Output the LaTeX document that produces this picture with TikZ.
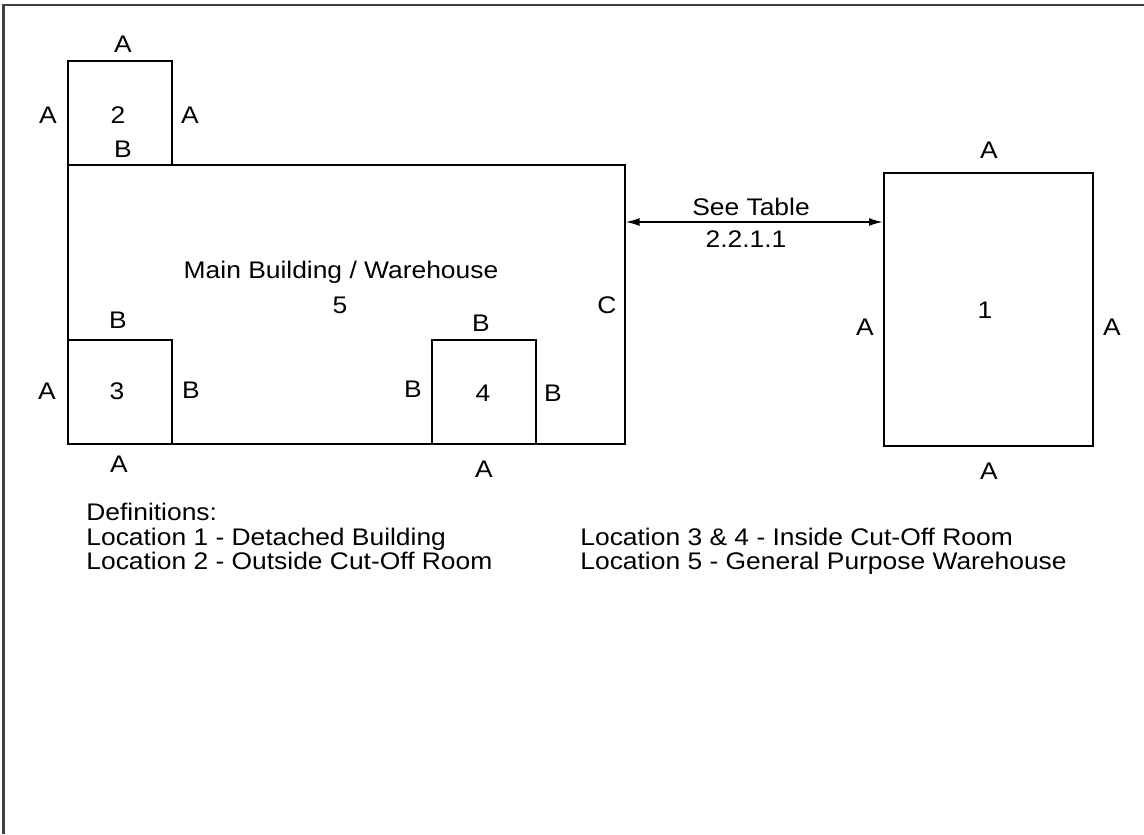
\documentclass[tikz,border=0pt]{standalone}
\usepackage{fontspec}
\setmainfont{Liberation Sans}[FakeStretch=1.1]
\usetikzlibrary{arrows.meta}
\tikzset{
	room/.style={draw, line width=1pt, inner sep=0pt},
	lbl/.style={anchor=base, inner sep=0pt, font=\fontsize{12}{12}\selectfont},
	defn/.style={lbl, anchor=base west},
	dim/.style={{Latex[length=7pt,width=4pt]}-{Latex[length=7pt,width=4pt]}, line width=0.9pt},
}

\begin{document}
\begin{tikzpicture}[x=0.5pt, y=-0.5pt]
	\useasboundingbox (0,0) rectangle (1144,834);
	\draw[line width=1.2pt, black!75] (3.5,834) -- (3.5,5) -- (1144,5);
	% the rooms
	\node[room, minimum width=278.25pt, minimum height=139pt] (main) at (346.25,304.5) {};
	\node[room, minimum width=52pt, minimum height=52pt] (loc2) at (120,113.25) {};
	\node[room, minimum width=52pt, minimum height=52pt] (loc3) at (120,391.5) {};
	\node[room, minimum width=52pt, minimum height=52pt] (loc4) at (484,391.5) {};
	\node[room, minimum width=104.25pt, minimum height=136.5pt] (loc1) at (988.25,309.5) {};
	% separation distance
	\coordinate (lvl) at (0,222);
	\draw[dim] (main.east |- lvl) -- (loc1.west |- lvl);
	\node[lbl] (see) at (751,215) {See Table};
	\node[lbl] (tab) at (746,247) {2.2.1.1};
	% wall ratings
	\foreach \n/\x/\y/\t in {
		tTwo/123/53/A, lTwo/48/124/A, nTwo/118/124/2, rTwo/190/124/A, bTwo/123/158/B,
		tThree/118/328/B, lThree/47/399/A, nThree/117/399/3, rThree/191/398/B, bThree/119/472/A,
		tFour/481/331/B, lFour/413/397/B, nFour/483/401/4, rFour/553/401/B, bFour/484/477/A,
		tOne/989/159/A, lOne/865/335/A, nOne/985/318/1, rOne/1112/335/A, bOne/989/479/A,
		rMain/607/313/C, nMain/340/313/5}
		\node[lbl] (\n) at (\x,\y) {\t};
	\node[lbl] (title) at (341,278) {Main Building / Warehouse};
	% definitions
	\node[defn] (def) at (86,520) {Definitions:};
	\node[defn] (defA) at (86,545) {Location 1 - Detached Building};
	\node[defn] (defB) at (86,569) {Location 2 - Outside Cut-Off Room};
	\node[defn] (defC) at (580,545) {Location 3 \& 4 - Inside Cut-Off Room};
	\node[defn] (defD) at (580,569) {Location 5 - General Purpose Warehouse};
\end{tikzpicture}
\end{document}
